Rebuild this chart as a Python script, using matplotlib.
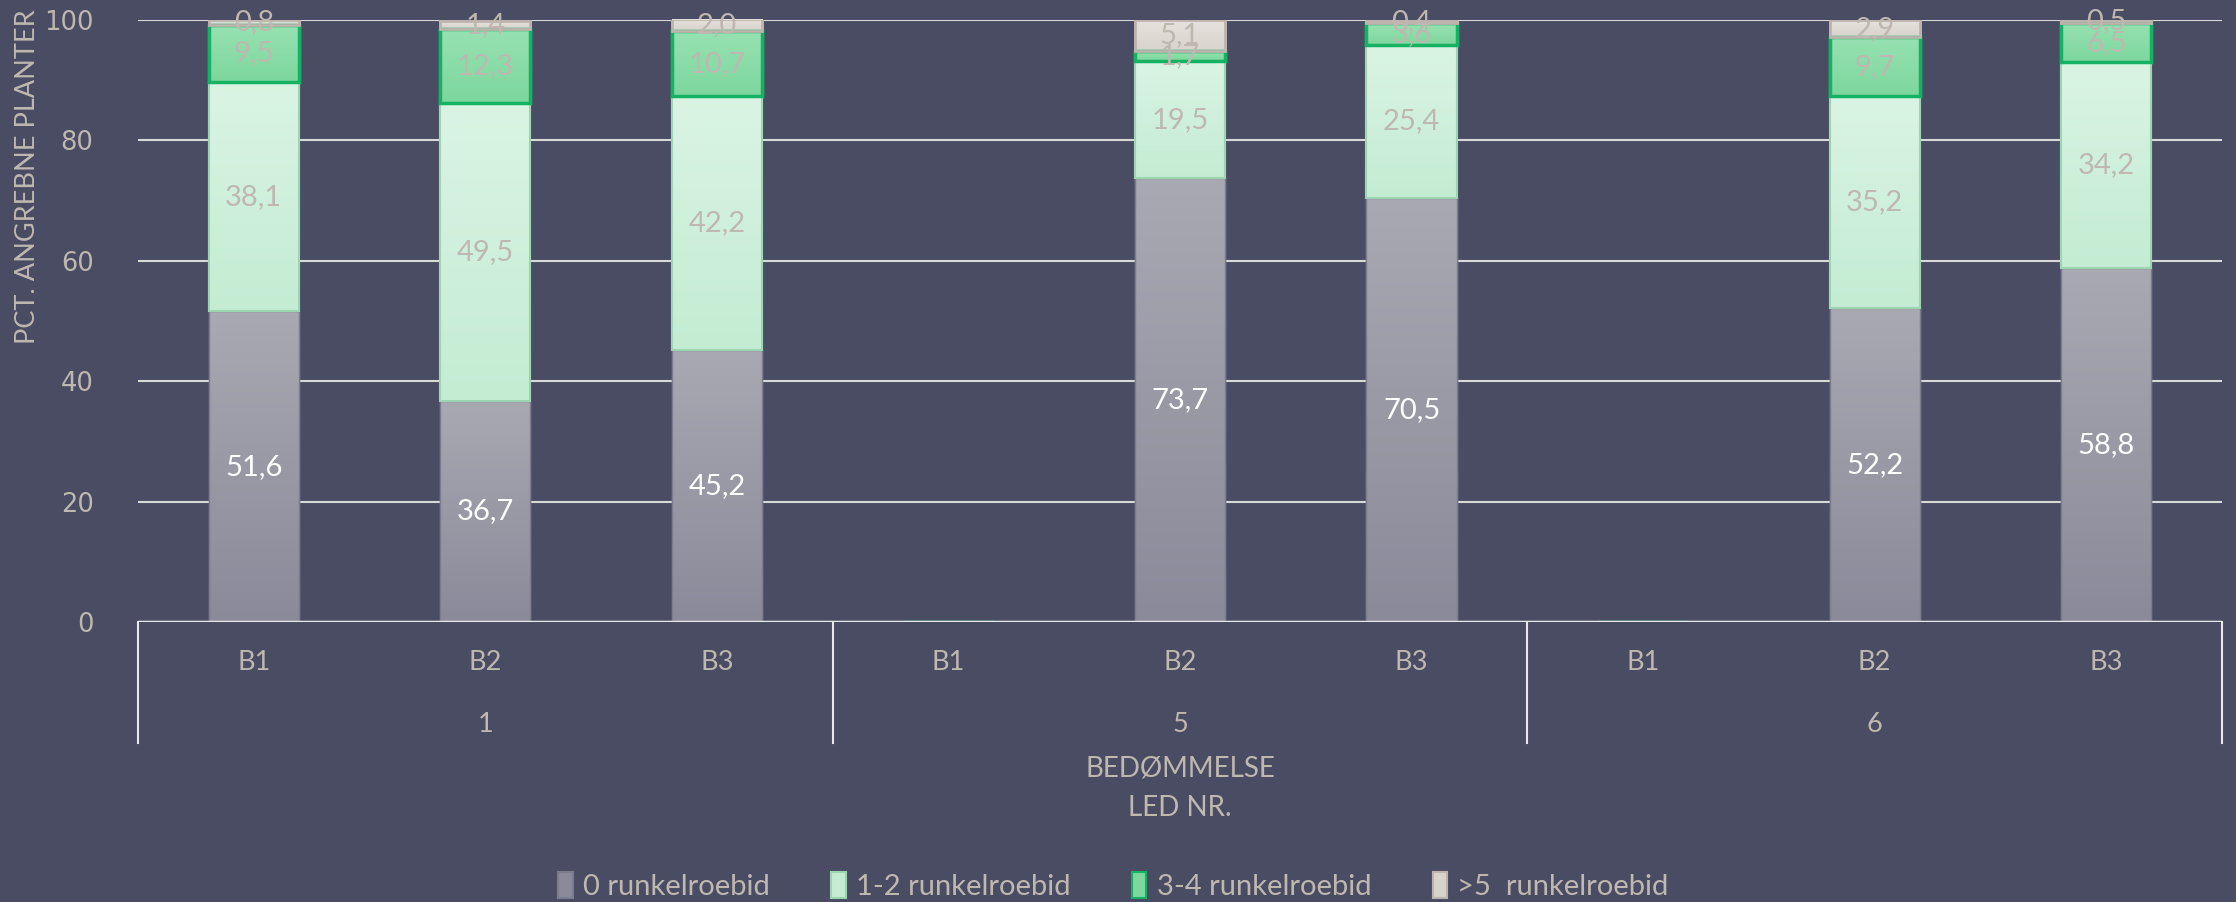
import matplotlib.pyplot as plt
import matplotlib.transforms as mtransforms
import matplotlib.patches as mpatches
import numpy as np

# DATA
groups = ['1', '5', '6']
sub_labels = ['B1', 'B2', 'B3']
series_names = ['0 runkelroebid', '1-2 runkelroebid', '3-4 runkelroebid', '>5  runkelroebid']
# order: 1-B1, 1-B2, 1-B3, 5-B1, 5-B2, 5-B3, 6-B1, 6-B2, 6-B3 (nan = no bar)
s0 = [51.6, 36.7, 45.2, np.nan, 73.7, 70.5, np.nan, 52.2, 58.8]
s12 = [38.1, 49.5, 42.2, np.nan, 19.5, 25.4, np.nan, 35.2, 34.2]
s34 = [9.5, 12.3, 10.7, np.nan, 1.7, 3.6, np.nan, 9.7, 6.5]
s5 = [0.8, 1.4, 2.0, np.nan, 5.1, 0.4, np.nan, 2.9, 0.5]

BG = '#4A4C63'
TXT = '#BFB8B0'
plt.rcParams['font.family'] = ['Lato', 'DejaVu Sans']

fig = plt.figure(figsize=(22.36, 9.02), dpi=100, facecolor=BG)
ax = fig.add_axes([138 / 2236, 280 / 902, (2222 - 138) / 2236, (622 - 20) / 902])
ax.set_facecolor(BG)

x = np.arange(len(s0))

# series styles: (top colour, bottom colour, edge, lw, label colour)
styles = [
    ('#A9A9B3', '#8A8A9A', '#7C7C8E', 1.0, 'white'),
    ('#DAF4E4', '#C4ECD3', '#9BD6B0', 1.5, TXT),
    ('#97E1B2', '#7DD79E', '#14B262', 2.5, TXT),
    ('#E6E2DD', '#D8D3CC', '#BDB5AD', 2.0, TXT),
]
series = [s0, s12, s34, s5]
bottom = np.zeros(len(s0))
width = 0.39
for vals, (ctop, cbot, ec, lw, lc) in zip(series, styles):
    vals = np.array(vals, dtype=float)
    bars = ax.bar(x, np.nan_to_num(vals), width, bottom=bottom, color=cbot,
                  edgecolor=ec, linewidth=lw, zorder=3)
    grad = np.linspace(0, 1, 100).reshape(-1, 1)
    cmap = plt.matplotlib.colors.LinearSegmentedColormap.from_list('g', [cbot, ctop])
    for b, v in zip(bars, vals):
        if np.isnan(v) or v == 0:
            continue
        x0, y0 = b.get_x(), b.get_y()
        w, h = b.get_width(), b.get_height()
        im = ax.imshow(grad, cmap=cmap, origin='lower', aspect='auto',
                       extent=(x0, x0 + w, y0, y0 + h), zorder=3.5)
        im.set_clip_path(b)
        # redraw edge on top of gradient
        ax.add_patch(mpatches.Rectangle((x0, y0), w, h, fill=False, ec=ec,
                                        lw=lw, zorder=4))
        ax.text(x0 + w / 2, y0 + h / 2, f"{v:.1f}".replace('.', ','),
                ha='center', va='center', color=lc, fontsize=21, zorder=6)
    bottom = bottom + np.nan_to_num(vals)

ax.set_xlim(-0.5, len(s0) - 0.5)
ax.set_ylim(0, 100)

# grid & spines
ax.set_yticks([0, 20, 40, 60, 80, 100])
ax.grid(axis='y', color='#D9D9D9', lw=1.5, zorder=1)
for sp in ax.spines.values():
    sp.set_visible(False)
ax.axhline(0, color='#E8E8E8', lw=2.5, zorder=5)
ax.tick_params(axis='y', length=0, labelsize=18.5, labelcolor=TXT, pad=32)
ax.set_xticks([])
for lab in ax.get_yticklabels():
    lab.set_fontfamily(['DejaVu Sans'])

# multi-level category axis
trans = mtransforms.blended_transform_factory(ax.transData, fig.transFigure)
for xi in x:
    ax.text(xi, 1 - 663 / 902, sub_labels[xi % 3], transform=trans,
            ha='center', va='center', color=TXT, fontsize=19.5)
for gi, g in enumerate(groups):
    ax.text(gi * 3 + 1, 1 - 724 / 902, g, transform=trans,
            ha='center', va='center', color=TXT, fontsize=19.5)
for bx in [-0.5, 2.5, 5.5, 8.5]:
    ax.plot([bx, bx], [1 - 622 / 902, 1 - 743 / 902], transform=trans,
            color='#E8E8E8', lw=1.5, clip_on=False)

xc = ax.get_position().x0 + ax.get_position().width / 2
fig.text(xc, 1 - 769 / 902, 'BEDØMMELSE', ha='center', va='center', color=TXT, fontsize=20)
fig.text(xc, 1 - 808 / 902, 'LED NR.', ha='center', va='center', color=TXT, fontsize=20)
fig.text(28 / 2236, 1 - 9 / 902, 'PCT. ANGREBNE PLANTER', rotation=90,
         ha='center', va='top', color=TXT, fontsize=19.5)

# legend
handles = [mpatches.Patch(facecolor=c[1], edgecolor=c[2], lw=1.5) for c in styles]
fig.legend(handles, series_names, loc='center', bbox_to_anchor=(0.498, 1 - 886 / 902),
           ncol=4, frameon=False, fontsize=21, handlelength=0.5, handleheight=1.0,
           handletextpad=0.35, columnspacing=2.1, labelcolor=TXT)

fig.savefig('out.png', dpi=100, facecolor=BG)
